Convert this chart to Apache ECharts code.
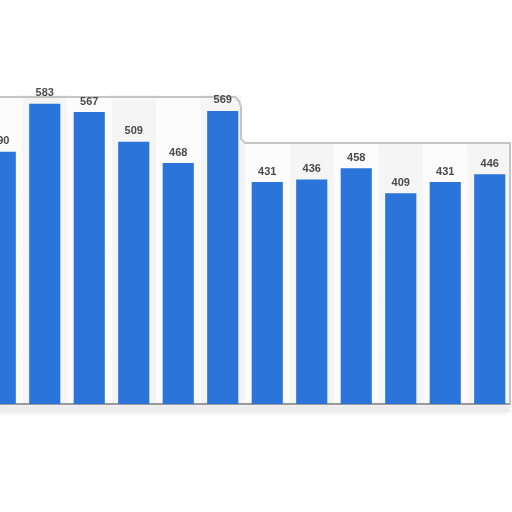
<!DOCTYPE html>
<html>
<head>
<meta charset="utf-8">
<script src="https://cdn.jsdelivr.net/npm/echarts@6/dist/echarts.min.js"></script>
<style>html,body{margin:0;padding:0;background:#fff}#c{width:512px;height:512px}</style>
</head>
<body>
<div id="c"></div>
<script>
const categories = ['2008','2009','2010','2011','2012','2013','2014','2015','2016','2017','2018','2019'];
const values = [490, 583, 567, 509, 468, 569, 431, 436, 458, 409, 431, 446];
const yTicks = [0, 100, 200, 300, 400, 500, 600];

const chart = echarts.init(document.getElementById('c'), null, {renderer: 'canvas'});
const option = {
  animation: false,
  backgroundColor: '#ffffff',
  grid: {left: -22, right: 0, top: 95, bottom: 108, containLabel: false, outerBoundsMode: 'none'},
  xAxis: {
    type: 'category', data: categories,
    axisLine: {show: true, lineStyle: {color: '#a0a0a0', width: 2}},
    axisTick: {show: false}, axisLabel: {show: false},
    splitArea: {show: true, areaStyle: {color: ['#fcfcfc', '#f5f5f5']}}
  },
  yAxis: {
    type: 'value', min: yTicks[0], max: yTicks[yTicks.length - 1], interval: 100,
    axisLine: {show: false}, axisTick: {show: false}, axisLabel: {show: false},
    splitLine: {show: true, lineStyle: {color: '#d4d4d4', type: [2, 2], width: 1}}
  },
  series: [{
    type: 'bar', data: values, barWidth: '70%',
    itemStyle: {color: '#2b74d9'},
    label: {show: true, position: 'top', distance: 5, color: '#4a4a4a', fontWeight: 'bold', fontSize: 11, fontFamily: 'Liberation Sans, Arial, sans-serif'},
    z: 5
  }]
};
chart.setOption(option);

// decorative panel outline (stepped) tied to the axes
const yTop = chart.convertToPixel({yAxisIndex: 0}, 600);
const yStep = chart.convertToPixel({yAxisIndex: 0}, 507);
const yBase = chart.convertToPixel({yAxisIndex: 0}, 0);
const xStep = (chart.convertToPixel({xAxisIndex: 0}, categories[5]) + chart.convertToPixel({xAxisIndex: 0}, categories[6])) / 2 - 4;
const xRight = 510;
chart.setOption({
  graphic: [
    {type: 'rect', z: 1, silent: true, shape: {x: xStep, y: 0, width: 520 - xStep, height: yStep}, style: {fill: '#ffffff'}},
    {type: 'rect', z: 1, silent: true, shape: {x: xRight + 1, y: 0, width: 10, height: 520}, style: {fill: '#ffffff'}},
    {type: 'polyline', z: 2, silent: true,
      shape: {points: [[-5, yTop + 2], [xStep - 6, yTop + 2], [xStep - 2, yTop + 6], [xStep, yTop + 12], [xStep, yStep - 4], [xStep + 4, yStep], [xRight, yStep], [xRight, yBase]]},
      style: {stroke: '#c4c4c4', lineWidth: 2, fill: null}},
    {type: 'rect', z: 1, silent: true, shape: {x: -5, y: yBase + 2, width: xRight + 5, height: 6}, style: {fill: '#ececec', shadowBlur: 6, shadowColor: 'rgba(0,0,0,0.12)'}}
  ]
});
</script>
</body>
</html>
